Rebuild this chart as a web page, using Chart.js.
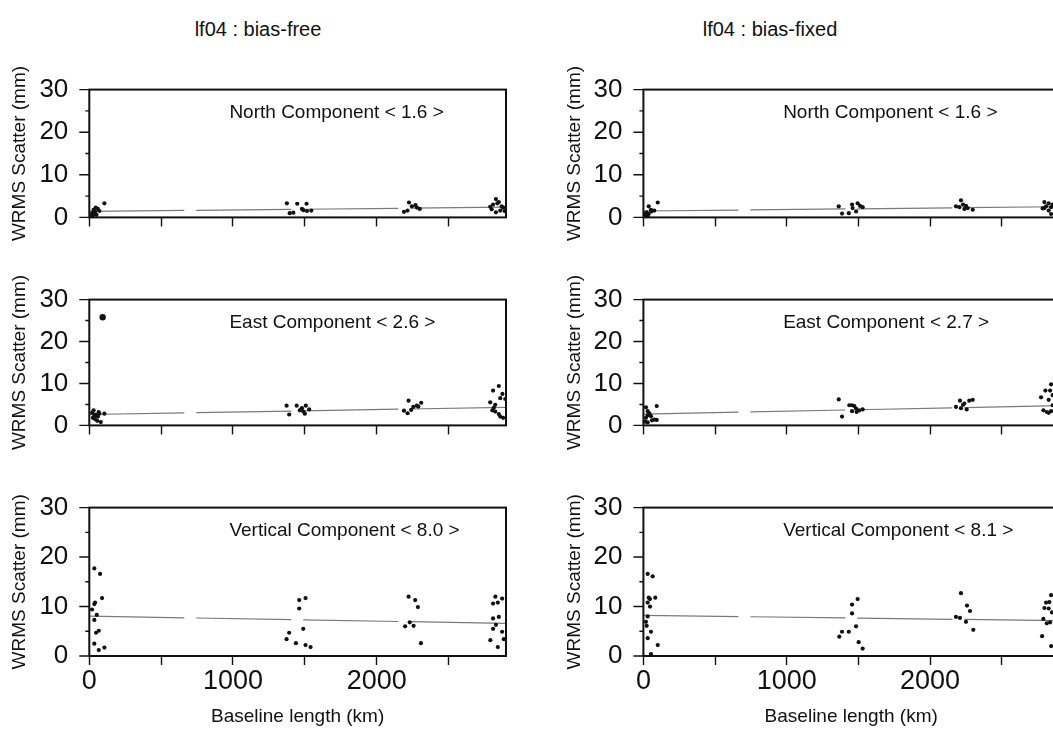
<!DOCTYPE html>
<html>
<head>
<meta charset="utf-8">
<script src="https://cdn.jsdelivr.net/npm/chart.js@4.4.1/dist/chart.umd.min.js"></script>
<style>
  html, body { margin: 0; padding: 0; background: #fff; width: 1053px; height: 729px; overflow: hidden; }
  #page { position: relative; width: 1053px; height: 729px; overflow: hidden; }
  .panel { position: absolute; }
  .coltitle {
    position: absolute; top: 18px; transform: translateX(-50%); white-space: nowrap;
    font: 20px "Liberation Sans", Arial, Helvetica, sans-serif; color: #111;
  }
</style>
</head>
<body>
<div id="page">
  <div class="coltitle" style="left:258px">lf04 : bias-free</div>
  <div class="coltitle" style="left:770px">lf04 : bias-fixed</div>
</div>
<script>
// axis ticks
const xTickValues = [0, 500, 1000, 1500, 2000, 2500];
const xTickLabels = [0, 1000, 2000];
const yMajorTicks = [0, 10, 20, 30];
const yMinorTicks = [5, 15, 25];
const trendKm = [0, 2900];

// bias-free : North
const freeNorthKm = [20, 30, 40, 50, 25, 60, 35, 70, 105, 45, 15,
  1375, 1447, 1512, 1395, 1420, 1490, 1515, 1545, 1480,
  2225, 2245, 2270, 2300, 2215, 2190, 2280,
  2830, 2850, 2810, 2840, 2870, 2800, 2860, 2830, 2880, 2890, 2790];
const freeNorthMm = [1.0, 1.8, 1.3, 0.6, 0.4, 2.0, 0.9, 1.5, 3.3, 2.3, 0.3,
  3.3, 3.2, 3.2, 1.0, 1.1, 1.7, 1.5, 1.6, 2.0,
  3.5, 2.6, 2.9, 2.0, 1.6, 1.3, 2.3,
  4.3, 3.6, 3.0, 3.3, 2.6, 1.9, 1.6, 1.2, 2.3, 1.5, 2.5];
const freeNorthTrend = [1.4, 2.4];

// bias-free : East
const freeEastKm = [20, 30, 45, 60, 70, 40, 55, 80, 35, 105, 25, 65, 93,
  1373, 1443, 1507, 1391, 1475, 1490, 1500, 1530, 1465, 1480,
  2222, 2310, 2280, 2255, 2190, 2215, 2240, 2290,
  2850, 2810, 2875, 2860, 2895, 2790, 2825, 2805, 2825, 2850, 2860, 2880, 2815];
const freeEastMm = [3.0, 3.6, 2.6, 2.1, 2.8, 1.5, 1.1, 0.8, 2.3, 2.8, 1.8, 3.2, 25.8,
  4.7, 4.7, 4.7, 2.6, 3.9, 3.3, 2.8, 3.8, 3.6, 4.1,
  5.9, 5.4, 4.7, 4.4, 3.5, 2.9, 3.7, 4.5,
  9.4, 8.3, 7.5, 6.5, 6.3, 5.5, 4.9, 3.6, 3.3, 2.7, 2.1, 1.8, 4.2];
const freeEastTrend = [2.6, 4.3];

// bias-free : Vertical
const freeVertKm = [35, 75, 89, 40, 35, 19, 52, 35, 66, 47, 35, 105, 66,
  1461, 1505, 1461, 1489, 1391, 1373, 1438, 1505, 1540,
  2222, 2268, 2287, 2230, 2198, 2257, 2308,
  2826, 2810, 2843, 2873, 2810, 2850, 2830, 2810, 2873, 2885, 2791, 2843];
const freeVertMm = [17.7, 16.6, 11.7, 10.8, 10.5, 9.4, 8.3, 7.3, 5.1, 4.7, 2.5, 1.7, 1.2,
  11.3, 11.7, 9.6, 5.5, 4.7, 3.4, 2.6, 2.2, 1.8,
  12.0, 11.3, 9.9, 6.8, 6.0, 6.1, 2.6,
  12.0, 10.6, 10.8, 11.6, 7.6, 7.9, 6.3, 5.5, 4.9, 3.4, 3.2, 1.8];
const freeVertTrend = [8.05, 6.6];

// bias-fixed : North
const fixedNorthKm = [100, 37, 53, 76, 23, 37, 30, 18, 55, 10,
  1363, 1456, 1495, 1530, 1460, 1484, 1386, 1433, 1512,
  2216, 2181, 2205, 2251, 2263, 2298, 2240, 2230,
  2798, 2828, 2810, 2845, 2786, 2828, 2845, 2798, 2856];
const fixedNorthMm = [3.5, 2.6, 1.8, 1.6, 1.2, 0.8, 0.3, 1.0, 1.4, 0.5,
  2.6, 3.0, 3.3, 2.4, 2.2, 1.4, 0.9, 1.0, 2.7,
  4.0, 2.6, 2.4, 2.7, 2.2, 1.8, 2.0, 3.0,
  3.6, 3.3, 2.6, 2.4, 2.1, 1.6, 0.8, 2.2, 3.0];
const fixedNorthTrend = [1.5, 2.5];

// bias-fixed : East
const fixedEastKm = [93, 18, 30, 41, 30, 53, 18, 76, 93, 60, 30, 13,
  1363, 1386, 1437, 1456, 1472, 1484, 1456, 1488, 1507, 1530,
  2209, 2239, 2274, 2298, 2181, 2216, 2256, 2230,
  2845, 2805, 2838, 2775, 2828, 2856, 2791, 2815, 2845, 2828, 2856];
const fixedEastMm = [4.6, 4.3, 3.4, 2.9, 2.4, 2.2, 1.8, 1.4, 1.3, 1.2, 0.7, 0.9,
  6.2, 2.1, 4.8, 4.8, 4.6, 4.0, 3.4, 3.2, 3.6, 3.8,
  5.9, 5.2, 5.9, 6.1, 4.4, 4.1, 3.8, 4.9,
  9.8, 8.3, 8.3, 6.7, 6.1, 7.2, 3.6, 3.2, 3.4, 3.0, 4.8];
const fixedEastTrend = [2.7, 4.7];

// bias-fixed : Vertical
const fixedVertKm = [30, 65, 37, 46, 83, 30, 46, 30, 18, 23, 53, 30, 100, 53,
  1495, 1456, 1456, 1484, 1386, 1433, 1367, 1502, 1530,
  2216, 2258, 2279, 2181, 2209, 2251, 2302,
  2845, 2833, 2810, 2798, 2828, 2851, 2791, 2815, 2838, 2782, 2845];
const fixedVertMm = [16.6, 16.1, 11.8, 11.5, 11.8, 10.8, 10.0, 8.0, 6.9, 6.1, 4.9, 3.6, 2.2, 0.4,
  11.5, 10.4, 8.6, 6.0, 4.9, 4.9, 3.9, 2.8, 1.5,
  12.7, 10.2, 9.1, 7.9, 7.7, 6.9, 5.3,
  12.3, 10.9, 10.8, 9.7, 9.6, 8.8, 7.5, 6.6, 6.8, 4.0, 2.0];
const fixedVertTrend = [8.2, 7.15];

const FONT = '"Liberation Sans", Arial, Helvetica, sans-serif';
const INK = '#111';

// box round the plot, y tick marks and the component label
const framePlugin = {
  id: 'frame',
  afterDraw(chart, args, opts) {
    const { ctx, chartArea: a, scales: { x, y } } = chart;
    ctx.save();
    ctx.strokeStyle = INK;
    ctx.lineWidth = 1.4;
    ctx.beginPath();
    yMajorTicks.forEach(v => {
      const py = y.getPixelForValue(v);
      ctx.moveTo(a.left - 10, py); ctx.lineTo(a.left, py);
    });
    yMinorTicks.forEach(v => {
      const py = y.getPixelForValue(v);
      ctx.moveTo(a.left - 4, py); ctx.lineTo(a.left, py);
    });
    ctx.stroke();
    ctx.lineWidth = 2;
    ctx.strokeRect(a.left, a.top, a.right - a.left, a.bottom - a.top);
    ctx.font = '19px ' + FONT;
    ctx.fillStyle = INK;
    ctx.textAlign = 'left';
    ctx.textBaseline = 'middle';
    ctx.fillText(opts.text, x.getPixelForValue(975), a.top + 23);
    ctx.restore();
  }
};

function makePanel(p) {
  const page = document.getElementById('page');
  const wrap = document.createElement('div');
  wrap.className = 'panel';
  const canvasTop = Math.floor(p.areaTop) - 22;
  const xAxisH = p.bottomRow ? 729 - p.areaBottom : 14;
  const height = Math.round(p.areaBottom + xAxisH - canvasTop);
  wrap.style.left = p.left + 'px';
  wrap.style.top = canvasTop + 'px';
  const canvas = document.createElement('canvas');
  canvas.width = p.width;
  canvas.height = height;
  wrap.appendChild(canvas);
  page.appendChild(wrap);

  const points = p.km.map((k, i) => ({ x: k, y: p.mm[i] }));
  const trend = trendKm.map((k, i) => ({ x: k, y: p.trend[i] }));

  new Chart(canvas, {
    type: 'scatter',
    data: {
      datasets: [
        {
          data: points,
          pointRadius: ctx => (ctx.raw && ctx.raw.y > 20 ? 3.2 : 2.1),
          pointBackgroundColor: INK,
          pointBorderWidth: 0,
          order: 1
        },
        {
          type: 'line',
          data: trend,
          showLine: true,
          borderColor: '#7a7a7a',
          borderWidth: 1.2,
          borderDash: [95, 12],
          pointRadius: 0,
          order: 2
        }
      ]
    },
    options: {
      responsive: false,
      animation: false,
      events: [],
      layout: { padding: { top: p.areaTop - canvasTop, right: p.padRight, left: 0, bottom: 0 } },
      plugins: {
        legend: { display: false },
        tooltip: { enabled: false },
        frame: { text: p.text }
      },
      scales: {
        x: {
          type: 'linear',
          min: 0,
          max: 2900,
          bounds: 'data',
          afterBuildTicks: s => { s.ticks = xTickValues.map(v => ({ value: v })); },
          afterFit: s => { s.height = xAxisH; },
          grid: { display: true, drawOnChartArea: false, drawTicks: true, tickLength: 9, tickColor: INK, tickWidth: 1.4 },
          border: { display: false },
          ticks: {
            display: !!p.bottomRow,
            autoSkip: false,
            maxRotation: 0,
            padding: 0,
            color: INK,
            font: { family: FONT, size: 27 },
            callback: v => (xTickLabels.includes(v) ? String(v) : '')
          },
          title: {
            display: !!p.bottomRow,
            text: 'Baseline length (km)',
            color: INK,
            font: { family: FONT, size: 19 },
            padding: { top: 0, bottom: 1 }
          }
        },
        y: {
          min: 0,
          max: 30,
          afterFit: s => { s.width = p.yAxisW; },
          grid: { display: false, drawTicks: false },
          border: { display: false },
          ticks: {
            stepSize: 10,
            padding: 21,
            color: INK,
            font: { family: FONT, size: 26 }
          },
          title: {
            display: true,
            text: 'WRMS Scatter (mm)',
            color: INK,
            font: { family: FONT, size: 19 },
            padding: { top: p.titlePad, bottom: 0 }
          }
        }
      }
    },
    plugins: [framePlugin]
  });
}

const rows = [
  { areaTop: 75.7, areaBottom: 240 },
  { areaTop: 285.7, areaBottom: 448 },
  { areaTop: 493.3, areaBottom: 656, bottomRow: true }
];
const leftCol = { left: 0, width: 520, padRight: 14, yAxisW: 89.3, titlePad: 8.5 };
const rightCol = { left: 554, width: 515, padRight: 10, yAxisW: 89.4, titlePad: 9.5 };

makePanel({ ...leftCol, ...rows[0], km: freeNorthKm, mm: freeNorthMm, trend: freeNorthTrend, text: 'North Component < 1.6 >' });
makePanel({ ...leftCol, ...rows[1], km: freeEastKm, mm: freeEastMm, trend: freeEastTrend, text: 'East Component < 2.6 >' });
makePanel({ ...leftCol, ...rows[2], km: freeVertKm, mm: freeVertMm, trend: freeVertTrend, text: 'Vertical Component < 8.0 >' });
makePanel({ ...rightCol, ...rows[0], km: fixedNorthKm, mm: fixedNorthMm, trend: fixedNorthTrend, text: 'North Component < 1.6 >' });
makePanel({ ...rightCol, ...rows[1], km: fixedEastKm, mm: fixedEastMm, trend: fixedEastTrend, text: 'East Component < 2.7 >' });
makePanel({ ...rightCol, ...rows[2], km: fixedVertKm, mm: fixedVertMm, trend: fixedVertTrend, text: 'Vertical Component < 8.1 >' });
</script>
</body>
</html>
